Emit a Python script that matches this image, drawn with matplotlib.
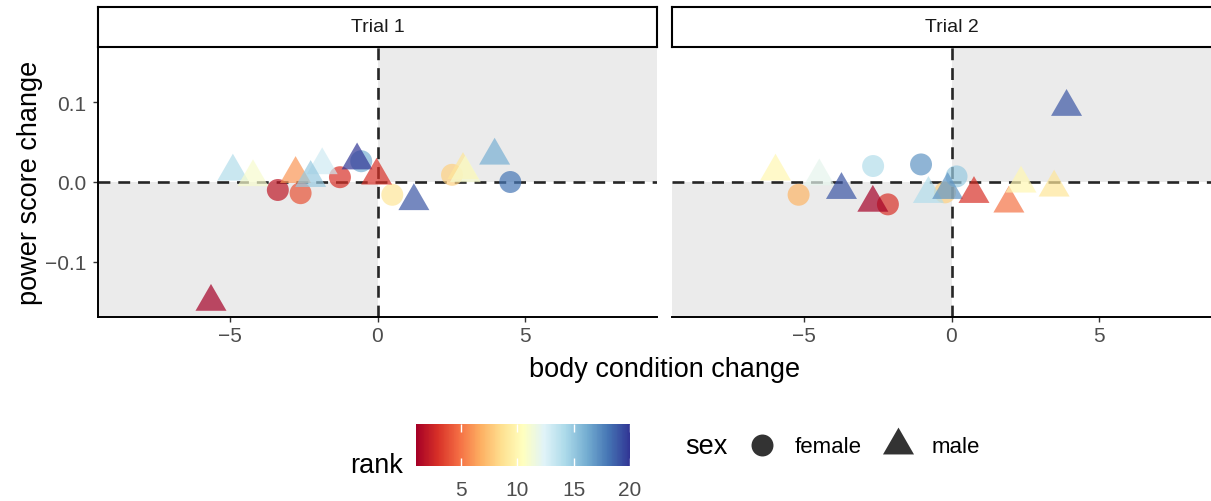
import numpy as np
import matplotlib.pyplot as plt
from matplotlib.patches import Rectangle
from matplotlib.lines import Line2D
from matplotlib.colors import Normalize
import matplotlib.cm as cm

plt.rcParams['font.family'] = ['Liberation Sans', 'DejaVu Sans']

# ---- data ----
trials = ['Trial 1', 'Trial 2']

x1 = [-4.89, -4.21, -3.37, -2.77, -2.60, -1.87, -2.26, -1.27, -0.55, -0.69,
      -0.03, 0.50, 1.23, 2.52, 2.89, 2.97, 3.96, 4.49, -5.63]
y1 = [0.013, 0.006, -0.010, 0.010, -0.014, 0.021, 0.005, 0.006, 0.026, 0.027,
      0.008, -0.016, -0.024, 0.009, 0.015, 0.011, 0.033, 0.000, -0.150]
rank1 = [14, 11, 2, 6, 4, 13, 15, 3, 16, 20, 3, 9, 19, 8, 9, 11, 16, 18, 1]
sex1 = ['male', 'male', 'female', 'male', 'female', 'male', 'male', 'female',
        'female', 'male', 'male', 'female', 'male', 'female', 'male', 'male',
        'male', 'female', 'male']

x2 = [-5.95, -4.47, -5.17, -3.72, -2.65, -2.66, -2.15, -1.03, -0.78, -0.22,
      -0.13, 0.17, 0.76, 1.94, 2.35, 3.47, 3.89]
y2 = [0.013, 0.007, -0.016, -0.010, 0.020, -0.026, -0.028, 0.022, -0.015,
      -0.013, -0.010, 0.007, -0.015, -0.027, -0.002, -0.007, 0.094]
rank2 = [10, 12, 7, 19, 14, 1, 3, 17, 14, 8, 17, 15, 3, 5, 10, 9, 19]
sex2 = ['male', 'male', 'female', 'male', 'female', 'male', 'female', 'female',
        'male', 'female', 'male', 'female', 'male', 'male', 'male', 'male', 'male']

xticks = [-5, 0, 5]
yticks = [-0.1, 0.0, 0.1]
cbar_ticks = [5, 10, 15, 20]

# ---- layout (pixels of a 1211x502 canvas) ----
W, H = 1211, 502
fig = plt.figure(figsize=(W / 100, H / 100), dpi=100)

xlim = (-9.45, 9.45)
ylim = (-0.169, 0.169)

# equilateral triangle centred on its centroid (like R's pch 17)
tri = [(-1, -1 / np.sqrt(3)), (1, -1 / np.sqrt(3)), (0, 2 / np.sqrt(3))]
s_circle = 250
s_tri = 665

cmap = plt.get_cmap('RdYlBu')
norm = Normalize(vmin=1, vmax=20)

panel_left = [98, 672]
panel_w = 559
panel_top, panel_bot = 48, 318
data = [(x1, y1, rank1, sex1), (x2, y2, rank2, sex2)]

for i, (xs, ys, rk, sx) in enumerate(data):
    ax = fig.add_axes([panel_left[i] / W, (H - panel_bot) / H,
                       panel_w / W, (panel_bot - panel_top) / H])
    ax.set_xlim(xlim)
    ax.set_ylim(ylim)
    # shaded quadrants
    ax.add_patch(Rectangle((xlim[0], ylim[0]), -xlim[0], -ylim[0],
                           color='#EBEBEB', lw=0, zorder=0))
    ax.add_patch(Rectangle((0, 0), xlim[1], ylim[1],
                           color='#EBEBEB', lw=0, zorder=0))
    ax.axhline(0, color='#262626', lw=1.9, ls=(0, (4.5, 3)), zorder=1)
    ax.axvline(0, color='#262626', lw=1.9, ls=(0, (4.5, 3)), zorder=1)

    xs = np.array(xs); ys = np.array(ys); rk = np.array(rk); sx = np.array(sx)
    f = sx == 'female'
    ax.scatter(xs[f], ys[f], c=rk[f], cmap=cmap, norm=norm, s=s_circle,
               marker='o', alpha=0.7, edgecolors='none', zorder=2)
    ax.scatter(xs[~f], ys[~f], c=rk[~f], cmap=cmap, norm=norm, s=s_tri,
               marker=tri, alpha=0.7, edgecolors='none', zorder=2)

    ax.set_xticks(xticks)
    ax.set_xticklabels(['\u22125', '0', '5'])
    for sp in ['top', 'right']:
        ax.spines[sp].set_visible(False)
    ax.spines['bottom'].set_linewidth(1.4)
    ax.spines['left'].set_linewidth(1.4)
    ax.tick_params(axis='x', length=3.5, width=1, color='#333333',
                   labelsize=15, labelcolor='#4D4D4D', pad=3)
    if i == 0:
        ax.set_yticks(yticks)
        ax.set_yticklabels(['\u22120.1', '0.0', '0.1'])
        ax.tick_params(axis='y', length=3.5, width=1, color='#333333',
                       labelsize=15, labelcolor='#4D4D4D', pad=5)
    else:
        ax.spines['left'].set_visible(False)
        ax.set_yticks([])

    # strip header
    st = fig.add_axes([panel_left[i] / W, (H - 48) / H, panel_w / W, 40 / H])
    st.set_xticks([]); st.set_yticks([])
    for sp in st.spines.values():
        sp.set_linewidth(1.5)
        sp.set_color('black')
    st.text(0.5, 0.5, trials[i], ha='center', va='center', fontsize=14,
            color='#1A1A1A', transform=st.transAxes)

fig.text(30 / W, 1 - 183 / H, 'power score change', rotation=90,
         ha='center', va='center', fontsize=19.5)
fig.text(664.5 / W, 1 - 370 / H, 'body condition change',
         ha='center', va='center', fontsize=19.5)

# ---- rank colourbar ----
cax = fig.add_axes([416 / W, (H - 467) / H, 214 / W, 42 / H])
cb = fig.colorbar(cm.ScalarMappable(norm=norm, cmap=cmap), cax=cax,
                  orientation='horizontal', ticks=cbar_ticks)
cb.outline.set_visible(False)
cax.tick_params(axis='x', direction='in', color='white', length=6, width=1,
                top=True, bottom=True, labelsize=15, labelcolor='#4D4D4D', pad=10)
fig.text(350 / W, 1 - 473 / H, 'rank', ha='left', va='baseline', fontsize=19.5)

# ---- sex legend ----
fig.text(685 / W, 1 - 447 / H, 'sex', ha='left', va='center', fontsize=19.5)
handles = [Line2D([], [], ls='none', marker='o', markersize=15.8,
                  color='#333333', markeredgewidth=0),
           Line2D([], [], ls='none', marker=tri, markersize=25.8,
                  color='#333333', markeredgewidth=0)]
fig.legend(handles, ['female', 'male'], ncol=2, frameon=False, fontsize=16,
           loc='center left', bbox_to_anchor=(745 / W, 1 - 448 / H),
           borderpad=0, borderaxespad=0, handlelength=1.5,
           handletextpad=0.75, columnspacing=0.86)

fig.savefig('out.png', dpi=100)
